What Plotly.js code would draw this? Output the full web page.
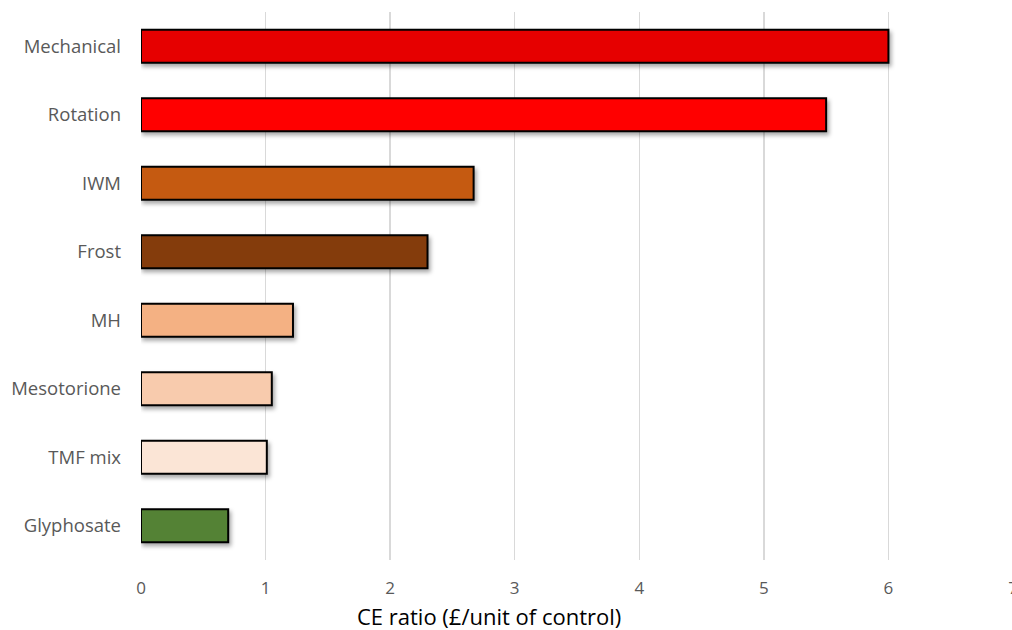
<!DOCTYPE html>
<html>
<head>
<meta charset="utf-8">
<script src="https://cdn.plot.ly/plotly-3.0.1.min.js"></script>
<style>
html, body { margin: 0; padding: 0; overflow: hidden; background: #fff; }
#chart { width: 1030px; height: 630px; }
.barlayer .point path { filter: drop-shadow(2px 3px 2px rgba(0,0,0,0.35)); }
</style>
</head>
<body>
<div id="chart"></div>
<script>
const categories = ["Mechanical", "Rotation", "IWM", "Frost", "MH", "Mesotorione", "TMF mix", "Glyphosate"];
const ceRatio = [6.0, 5.5, 2.67, 2.3, 1.22, 1.05, 1.01, 0.7];
const barColors = ["#E60000", "#FF0000", "#C55A11", "#843C0C", "#F4B183", "#F8CBAD", "#FBE5D6", "#548235"];
const xTicks = [0, 1, 2, 3, 4, 5, 6, 7];
const xTitle = "CE ratio (£/unit of control)";

const trace = {
  type: "bar",
  orientation: "h",
  y: categories,
  x: ceRatio,
  width: 0.48,
  marker: { color: barColors, line: { color: "#000000", width: 2 } },
  hoverinfo: "x+y"
};

const layout = {
  width: 1030,
  height: 630,
  margin: { l: 141, r: 17, t: 12, b: 70 },
  paper_bgcolor: "#ffffff",
  plot_bgcolor: "#ffffff",
  showlegend: false,
  font: { family: "Open Sans, sans-serif", color: "#595959", size: 16 },
  xaxis: {
    range: [0, 7],
    tickvals: xTicks,
    ticktext: xTicks.map(String),
    showgrid: true,
    gridcolor: "#D9D9D9",
    gridwidth: 1.5,
    zeroline: false,
    showline: false,
    ticks: "",
    ticklabelstandoff: 16,
    tickfont: { size: 17, color: "#595959" }
  },
  yaxis: {
    type: "category",
    categoryorder: "array",
    categoryarray: categories,
    autorange: "reversed",
    showgrid: false,
    zeroline: false,
    showline: false,
    ticks: "",
    ticklabelstandoff: 19,
    tickfont: { size: 18.5, color: "#595959" }
  },
  annotations: [{
    text: xTitle,
    xref: "paper", yref: "paper",
    x: 0.399, y: -0.1013,
    xanchor: "center", yanchor: "middle",
    showarrow: false,
    font: { size: 22, color: "#000000", family: "Open Sans, sans-serif" }
  }]
};

Plotly.newPlot("chart", [trace], layout, { displayModeBar: false, staticPlot: true });
</script>
</body>
</html>
